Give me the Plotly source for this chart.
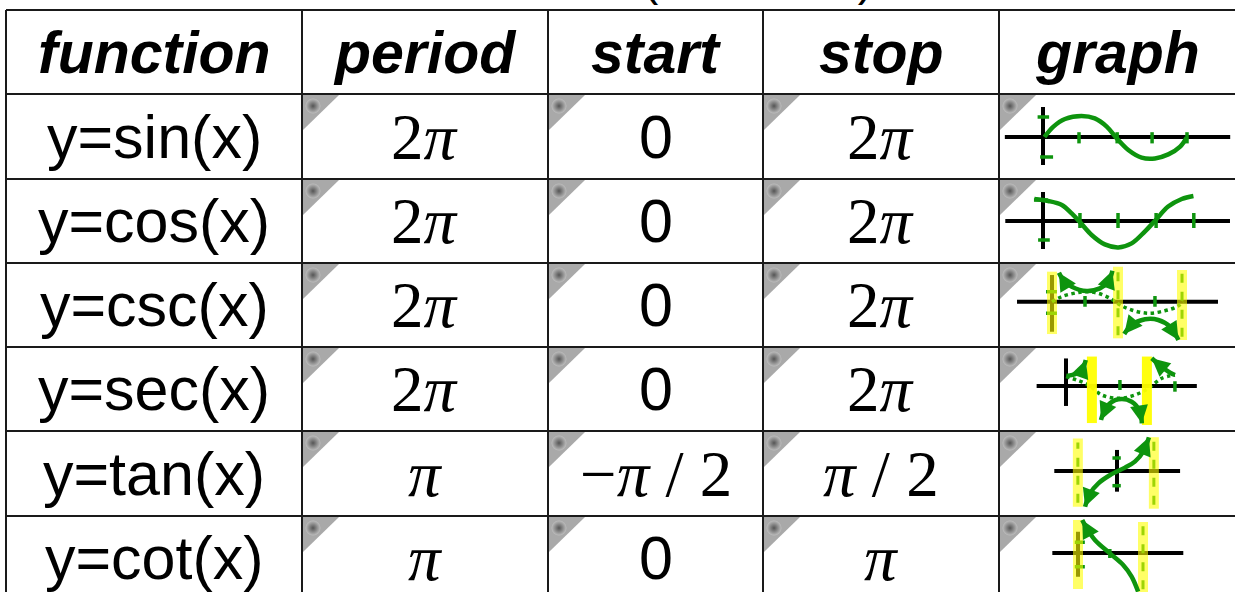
import plotly.graph_objects as go

W, H = 1235, 592

# ---- table content ----
HEADERS = ["function", "period", "start", "stop", "graph"]
FUNCTIONS = ["y=sin(x)", "y=cos(x)", "y=csc(x)", "y=sec(x)", "y=tan(x)", "y=cot(x)"]
PERIODS = ["2π", "2π", "2π", "2π", "π", "π"]
STARTS = ["0", "0", "0", "0", "−π / 2", "0"]
STOPS = ["2π", "2π", "2π", "2π", "π / 2", "π"]
TITLE = "(in radians)"

# ---- hand-drawn thumbnails: x in units of pi/2, y in function units ----
SIN_CURVE = [(0.04, 0.0), (0.29, 0.52), (0.61, 0.9), (1.07, 1.05), (1.44, 0.93),
             (1.77, 0.52), (2.05, -0.07), (2.37, -0.65), (2.74, -1.03), (3.11, -1.07),
             (3.48, -0.87), (3.81, -0.48), (3.99, -0.03)]
COS_CURVE = [(-0.23, 1.1), (0.14, 1.0), (0.5, 0.8), (0.76, 0.38), (1.01, -0.12),
             (1.29, -0.7), (1.64, -1.17), (2.0, -1.32), (2.35, -1.12), (2.7, -0.53),
             (2.99, 0.05), (3.32, 0.72), (3.68, 1.1), (3.99, 1.25)]
CSC_GUIDE = [(0.0, 0.0), (0.29, 0.48), (0.65, 0.79), (1.0, 0.95), (1.4, 0.8), (1.76, 0.32),
             (2.06, -0.31), (2.41, -0.79), (2.92, -1.1), (3.42, -0.86), (3.78, -0.48), (3.98, 0.0)]
CSC_UPPER = [(0.21, 2.76), (0.34, 2.07), (0.6, 1.43), (1.05, 1.02), (1.45, 1.27), (1.71, 1.9), (1.83, 2.95)]
CSC_LOWER = [(2.19, -3.08), (2.41, -2.22), (2.82, -1.68), (3.22, -1.74), (3.58, -2.38), (3.83, -3.65)]
SEC_GUIDE = [(0.0, 0.98), (0.4, 0.63), (0.84, 0.1), (1.34, -0.95), (2.02, -1.3),
             (2.58, -0.95), (3.08, -0.25), (3.58, 0.8), (4.08, 1.16)]
SEC_LEFT = [(0.02, 1.05), (0.4, 1.33), (0.65, 2.03), (0.74, 2.74)]
SEC_MIDDLE = [(1.31, -3.58), (1.52, -2.18), (1.96, -1.4), (2.46, -1.65), (2.77, -2.7), (2.84, -3.93)]
SEC_RIGHT = [(3.21, 2.92), (3.58, 2.03), (3.9, 1.4), (4.08, 1.16)]
TAN_CURVE = [(-0.84, -2.75), (-0.71, -1.72), (-0.49, -0.95), (-0.18, -0.31), (0.21, 0.26),
             (0.47, 0.72), (0.69, 1.49), (0.84, 2.59)]
COT_CURVE = [(0.13, 2.64), (0.27, 1.97), (0.52, 1.04), (0.98, -0.03), (1.39, -0.96),
             (1.65, -1.89), (1.85, -3.09)]

# axes of each thumbnail: (x from, x to), (y from, y to)
AXIS_SPANS = [((-1.06, 5.2), (-1.4, 1.5)), ((-1.0, 4.96), (-1.4, 1.45)),
              ((-1.06, 5.03), (-2.86, 2.54)), ((-1.1, 4.9), (-2.1, 2.9)),
              ((-1.65, 1.66), (-1.59, 1.62)), ((-0.79, 3.24), (-1.9, 1.7))]
# tick marks on the y axis (y, x from, x to) and x axis (x, y from, y to)
Y_TICKS = [[(1.0, -0.15, 0.17), (-1.0, -0.08, 0.28)],
           [(1.05, -0.24, 0.13), (-0.95, -0.13, 0.18)],
           [(0.95, -0.18, 0.15), (-1.1, -0.18, 0.15)],
           [],
           [(1.0, -0.12, 0.1), (-1.13, -0.12, 0.1)],
           [(0.86, -0.1, 0.21), (-1.1, -0.1, 0.21)]]
X_TICKS = [[(1.0, -0.32, 0.24), (2.06, -0.32, 0.24), (3.03, -0.32, 0.24), (4.0, -0.32, 0.24)],
           [(0.98, -0.35, 0.4), (1.99, -0.35, 0.4), (3.0, -0.35, 0.4), (4.0, -0.35, 0.4)],
           [(1.0, -0.48, 0.54), (3.12, -0.48, 0.54)],
           [(2.02, -0.42, 0.63), (4.08, -0.6, 0.5)],
           [],
           [(0.98, -0.4, 0.32)]]
# highlighted asymptotes (x, y from, y to, dashed line inside)
ASYMPTOTES = [[], [],
              [(0.0, -3.08, 2.86, False), (2.0, -3.49, 3.33, True), (3.94, -3.65, 3.02, True)],
              [(0.97, -3.9, 3.1, False), (3.03, -4.1, 3.1, False)],
              [(-1.03, -2.75, 2.5, True), (0.97, -2.9, 2.6, True)],
              [(0.0, -2.88, 2.64, False), (2.0, -3.2, 2.48, True)]]
GUIDES = [None, None, CSC_GUIDE, SEC_GUIDE, None, None]
BRANCHES = [[SIN_CURVE], [COS_CURVE], [CSC_UPPER, CSC_LOWER],
            [SEC_LEFT, SEC_MIDDLE, SEC_RIGHT], [TAN_CURVE], [COT_CURVE]]
# arrow heads: (branch index, at start?, at end?)
ARROWS = [[], [], [(0, True, True), (1, True, True)],
          [(0, False, True), (1, True, True), (2, True, False)],
          [(0, True, True)], [(0, True, False)]]

# ---- layout of the table (pixels) ----
COL_EDGES = [6, 302, 548, 763, 999, W]
ROW_EDGES = [10, 94, 179, 263, 347, 431, 516, 600]
# thumbnail origin (px) and scale (px per unit) per graph cell
FRAMES = [(1043, 137, 36, 20), (1043, 221, 37.7, 20), (1052, 301.7, 33, 10.5),
          (1066, 386, 26.7, 9.5), (1117, 471, 38, 13), (1078, 553, 32.5, 12.5)]

GRID = "#1a1a1a"
GREEN = "#0e940e"
SANS = "Liberation Sans"
SERIF = "Liberation Serif"

fig = go.Figure()
shapes = []
annotations = []

for y in ROW_EDGES[:-1]:
    shapes.append(dict(type="line", xref="x", yref="y", layer="below",
                       x0=COL_EDGES[0], x1=W, y0=y, y1=y, line=dict(color=GRID, width=2)))
for x in COL_EDGES[:-1]:
    shapes.append(dict(type="line", xref="x", yref="y", layer="below",
                       x0=x, x1=x, y0=ROW_EDGES[0], y1=H, line=dict(color=GRID, width=2)))

# grey corner flags in the answer cells
ball_x, ball_y = [], []
for r in range(len(FUNCTIONS)):
    for c in range(1, 5):
        x0, y0 = COL_EDGES[c] + 1, ROW_EDGES[r + 1] + 1
        shapes.append(dict(type="path", xref="x", yref="y", layer="below",
                           path=f"M{x0},{y0} L{x0 + 36},{y0} L{x0},{y0 + 35} Z",
                           fillcolor="#a9a9a9", line=dict(width=0)))
        ball_x.append(x0 + 10)
        ball_y.append(y0 + 11)
fig.add_trace(go.Scatter(x=ball_x, y=ball_y, mode="markers", hoverinfo="skip",
                         marker=dict(size=15, color="#bdbdbd", line=dict(width=0),
                                     gradient=dict(type="radial", color="#555555")),
                         xaxis="x", yaxis="y", showlegend=False))


def centre(c, r):
    return (COL_EDGES[c] + COL_EDGES[c + 1]) / 2, (ROW_EDGES[r] + ROW_EDGES[r + 1]) / 2


def cell_text(s):
    if "π" in s:
        return s.replace("π", "<i>π</i>"), SERIF, 65
    return s, SANS, 61


for c, h in enumerate(HEADERS):
    cx, cy = centre(c, 0)
    annotations.append(dict(xref="x", yref="y", x=cx, y=cy + 1, showarrow=False,
                            text=f"<b><i>{h}</i></b>",
                            font=dict(family=SANS, size=59, color="black")))

for r in range(len(FUNCTIONS)):
    for c, col in enumerate([FUNCTIONS, PERIODS, STARTS, STOPS]):
        txt, fam, size = cell_text(col[r])
        cx, cy = centre(c, r + 1)
        annotations.append(dict(xref="x", yref="y", x=cx, y=cy, showarrow=False,
                                text=txt, font=dict(family=fam, size=size, color="black")))

annotations.append(dict(xref="x", yref="y", x=758, y=6, yanchor="bottom", showarrow=False,
                        borderpad=0, text=TITLE, font=dict(family=SANS, size=46, color="black")))

layout_axes = {}
for k in range(6):
    n = k + 2
    xa, ya = f"x{n}", f"y{n}"
    ox, oy, sx, sy = FRAMES[k]
    top, bottom = ROW_EDGES[k + 1], min(ROW_EDGES[k + 2], H)
    left, right = COL_EDGES[4], W
    layout_axes[f"xaxis{n}"] = dict(domain=[left / W, right / W], anchor=ya, visible=False,
                                    range=[(left - ox) / sx, (right - ox) / sx], fixedrange=True)
    layout_axes[f"yaxis{n}"] = dict(domain=[(H - bottom) / H, (H - top) / H], anchor=xa, visible=False,
                                    range=[(oy - bottom) / sy, (oy - top) / sy], fixedrange=True)

    def line(xs, ys, color, width, dash=None):
        fig.add_trace(go.Scatter(x=xs, y=ys, mode="lines", xaxis=xa, yaxis=ya, hoverinfo="skip",
                                 showlegend=False,
                                 line=dict(color=color, width=width, dash=dash)))

    (ax0, ax1), (ay0, ay1) = AXIS_SPANS[k]
    line([ax0, ax1], [0, 0], "black", 4)
    line([0, 0], [ay0, ay1], "black", 4)
    for yv, t0, t1 in Y_TICKS[k]:
        line([t0, t1], [yv, yv], GREEN, 3.5)
    for xv, t0, t1 in X_TICKS[k]:
        line([xv, xv], [t0, t1], GREEN, 3.5)
    if GUIDES[k]:
        g = GUIDES[k]
        fig.add_trace(go.Scatter(x=[p[0] for p in g], y=[p[1] for p in g], mode="lines",
                                 line=dict(color=GREEN, width=3.5, dash="dot", shape="spline"),
                                 xaxis=xa, yaxis=ya, hoverinfo="skip", showlegend=False))
    for xv, y0, y1, dashed in ASYMPTOTES[k]:
        if dashed:
            line([xv, xv], [y0 + 0.3, y1 - 0.3], GREEN, 3, "dash")
    for xv, y0, y1, dashed in ASYMPTOTES[k]:
        col = "rgba(255,255,0,0.6)" if k != 3 else "rgba(255,255,0,0.95)"
        line([xv, xv], [y0, y1], col, 10)
    for b in BRANCHES[k]:
        fig.add_trace(go.Scatter(x=[p[0] for p in b], y=[p[1] for p in b], mode="lines",
                                 line=dict(color=GREEN, width=4.5, shape="spline"),
                                 xaxis=xa, yaxis=ya, hoverinfo="skip", showlegend=False))
    for bi, at_start, at_end in ARROWS[k]:
        b = BRANCHES[k][bi]
        ends = []
        if at_start:
            ends.append((b[0], b[1]))
        if at_end:
            ends.append((b[-1], b[-2]))
        for tip, tail in ends:
            annotations.append(dict(xref=xa, yref=ya, axref=xa, ayref=ya, x=tip[0], y=tip[1],
                                    ax=tail[0], ay=tail[1], text="", showarrow=True,
                                    arrowhead=2, arrowsize=1.2, arrowwidth=3, arrowcolor=GREEN))

fig.update_layout(
    width=W, height=H,
    margin=dict(l=0, r=0, t=0, b=0),
    paper_bgcolor="white", plot_bgcolor="rgba(0,0,0,0)",
    xaxis=dict(range=[0, W], visible=False, domain=[0, 1], fixedrange=True),
    yaxis=dict(range=[H, 0], visible=False, domain=[0, 1], fixedrange=True),
    shapes=shapes, annotations=annotations,
    showlegend=False,
    **layout_axes,
)

fig.write_html("out.html", config={"displayModeBar": False},
               post_script="document.body.style.margin='0';")
